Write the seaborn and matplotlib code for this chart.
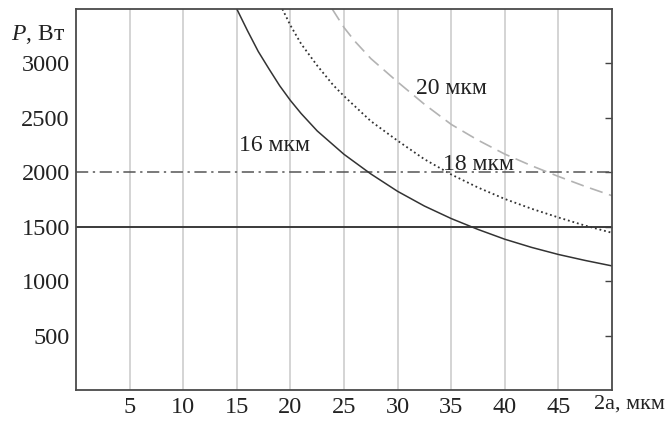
import numpy as np
import pandas as pd
import matplotlib
matplotlib.use("Agg")
import matplotlib.pyplot as plt
import seaborn as sns

# curves: diameter 2a (мкм) -> power P (Вт)
x16 = [15, 16, 17, 18, 19, 20, 21, 22.5, 25, 27.5, 30, 32.5, 35, 37.5, 40, 42.5, 45, 47.5, 50]
p16 = [3500, 3300, 3110, 2950, 2795, 2660, 2540, 2380, 2165, 1985, 1825, 1690, 1575, 1475,
       1385, 1310, 1245, 1190, 1140]

x18 = [19.25, 20, 21, 22.5, 24, 25, 27.5, 30, 32.5, 35, 37.5, 40, 42.5, 45, 47.5, 50]
p18 = [3500, 3350, 3180, 2980, 2800, 2700, 2470, 2290, 2120, 1980, 1860, 1755, 1665, 1585,
       1510, 1444]

x20 = [23.9, 25, 26, 27.5, 30, 32.5, 35, 37.5, 40, 42.5, 45, 47.5, 50]
p20 = [3500, 3330, 3205, 3045, 2830, 2625, 2440, 2295, 2167, 2060, 1962, 1870, 1785]

level_solid = 1500
level_dashdot = 2000

xticks = [5, 10, 15, 20, 25, 30, 35, 40, 45]
yticks = [500, 1000, 1500, 2000, 2500, 3000]

sns.set_style("white")
plt.rcParams['font.family'] = ['Liberation Serif', 'DejaVu Serif']
plt.rcParams['mathtext.fontset'] = 'custom'
plt.rcParams['mathtext.it'] = 'Liberation Serif:italic'
plt.rcParams['mathtext.rm'] = 'Liberation Serif'

fig = plt.figure(figsize=(6.7, 4.21), dpi=100)
ax = fig.add_axes([76/670, 1-390/421, 536/670, 381/421])

for xv in xticks:
    ax.axvline(xv, color='#c9c9c9', lw=1.1, zorder=0)

ax.axhline(level_solid, color='#3a3a3a', lw=1.4, zorder=1)
ax.axhline(level_dashdot, color='#555555', lw=1.1, linestyle=(0, (8, 3, 1.5, 3)), zorder=1)

df16 = pd.DataFrame({'x': x16, 'p': p16})
df18 = pd.DataFrame({'x': x18, 'p': p18})
df20 = pd.DataFrame({'x': x20, 'p': p20})

sns.lineplot(data=df16, x='x', y='p', ax=ax, color='#333333', lw=1.1)
sns.lineplot(data=df18, x='x', y='p', ax=ax, color='#333333', lw=1.3, linestyle=(0, (1, 1.6)))
sns.lineplot(data=df20, x='x', y='p', ax=ax, color='#b3b3b3', lw=1.2, linestyle=(0, (8, 4)))

ax.set_xlim(0, 50)
ax.set_ylim(0, 3500)
ax.set_xticks(xticks)
ax.set_yticks(yticks)
ax.set_xlabel('')
ax.set_ylabel('')

fs = 17.5
ax.tick_params(axis='x', length=0, pad=5, labelsize=fs, colors='#222222')
ax.tick_params(axis='y', direction='inout', length=9, width=1, pad=0, labelsize=fs,
               colors='#444444', labelcolor='#222222', right=True)
for t in ax.yaxis.get_major_ticks():
    t.tick2line.set_marker(matplotlib.lines.TICKLEFT)
    t.tick2line.set_markersize(5)

for s in ax.spines.values():
    s.set_color('#4a4a4a')
    s.set_linewidth(1.3)

lfs = 17
ax.text(15.2, 2243, '16 мкм', fontsize=lfs, va='center', ha='left', color='#222222')
ax.text(34.2, 2075, '18 мкм', fontsize=lfs, va='center', ha='left', color='#222222')
ax.text(31.7, 2770, '20 мкм', fontsize=lfs, va='center', ha='left', color='#222222')

ax.text(-0.02, 0.934, '$P$, Вт', transform=ax.transAxes, fontsize=lfs, ha='right', va='center',
        color='#222222')
ax.text(1.099, -0.037, '2a, мкм', transform=ax.transAxes, fontsize=16, ha='right', va='center',
        color='#222222')

fig.savefig('out.png', dpi=100)
